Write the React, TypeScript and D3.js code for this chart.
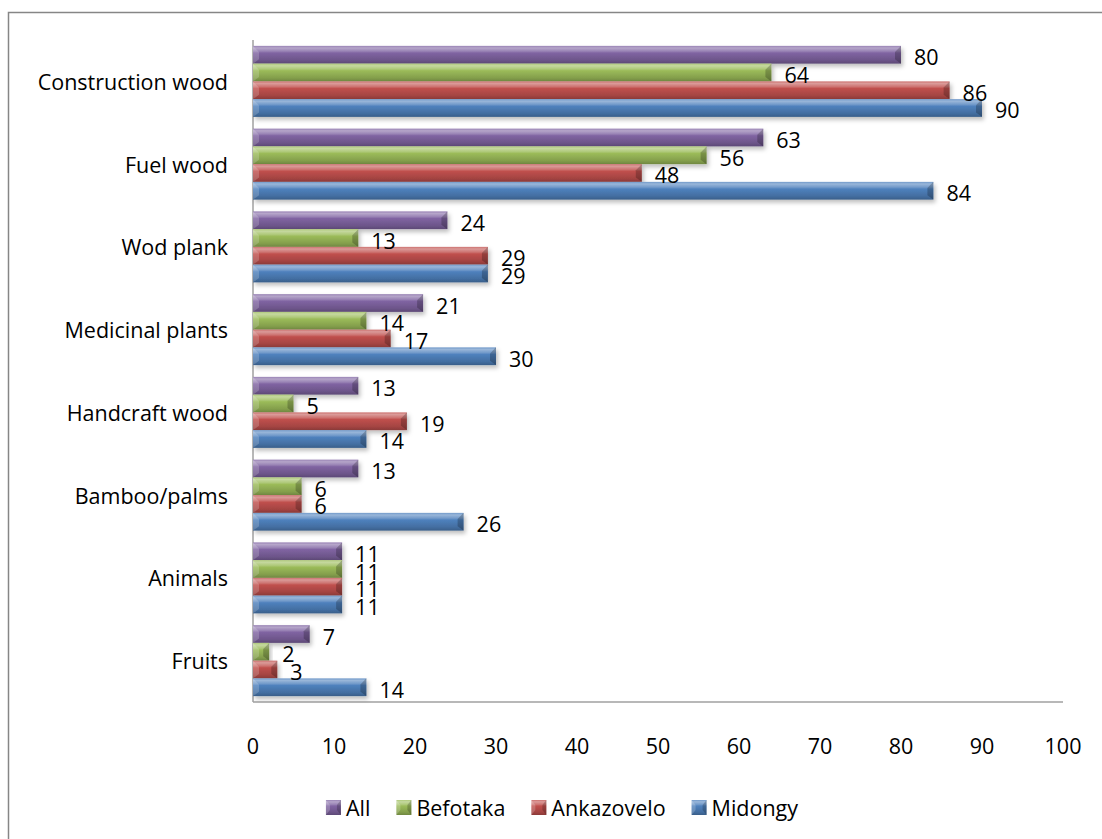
import React, { useEffect, useRef } from "react";
import * as d3 from "d3";

const categories = [
  "Construction wood",
  "Fuel wood",
  "Wod plank",
  "Medicinal plants",
  "Handcraft wood",
  "Bamboo/palms",
  "Animals",
  "Fruits",
];
const seriesNames = ["All", "Befotaka", "Ankazovelo", "Midongy"];
const allValues = [80, 63, 24, 21, 13, 13, 11, 7];
const befotakaValues = [64, 56, 13, 14, 5, 6, 11, 2];
const ankazoveloValues = [86, 48, 29, 17, 19, 6, 11, 3];
const midongyValues = [90, 84, 29, 30, 14, 26, 11, 14];
const xTicks = [0, 10, 20, 30, 40, 50, 60, 70, 80, 90, 100];

const seriesValues = [allValues, befotakaValues, ankazoveloValues, midongyValues];
const colors = ["#8064A2", "#9BBB59", "#C0504D", "#4F81BD"];

const W = 1102;
const H = 839;
const FONT = "'Open Sans', sans-serif";
const FS = 21.5;

export default function App() {
  const ref = useRef<SVGSVGElement | null>(null);

  useEffect(() => {
    const svg = d3.select(ref.current);
    svg.selectAll("*").remove();

    const left = 253;
    const right = 1063;
    const top = 40;
    const bottom = 702;

    const x = d3.scaleLinear().domain([0, 100]).range([left, right]);
    const y0 = d3
      .scaleBand<string>()
      .domain(categories)
      .range([top, bottom])
      .paddingInner(0.142)
      .paddingOuter(0.071);
    const y1 = d3
      .scaleBand<string>()
      .domain(seriesNames)
      .range([0, y0.bandwidth()]);

    const defs = svg.append("defs");
    colors.forEach((c, i) => {
      const base = d3.color(c)!;
      const light = d3.interpolateRgb(c, "#ffffff")(0.42);
      const light2 = d3.interpolateRgb(c, "#ffffff")(0.2);
      const dark = (base as any).darker(0.45).formatHex();
      const darker = (base as any).darker(0.9).formatHex();
      const g = defs
        .append("linearGradient")
        .attr("id", "grad" + i)
        .attr("x1", 0)
        .attr("y1", 0)
        .attr("x2", 0)
        .attr("y2", 1);
      g.append("stop").attr("offset", "0%").attr("stop-color", light2);
      g.append("stop").attr("offset", "12%").attr("stop-color", light);
      g.append("stop").attr("offset", "30%").attr("stop-color", light2);
      g.append("stop").attr("offset", "40%").attr("stop-color", c);
      g.append("stop").attr("offset", "80%").attr("stop-color", dark);
      g.append("stop").attr("offset", "100%").attr("stop-color", darker);
    });
    const f = defs
      .append("filter")
      .attr("id", "shadow")
      .attr("x", "-10%")
      .attr("y", "-30%")
      .attr("width", "130%")
      .attr("height", "200%");
    f.append("feDropShadow")
      .attr("dx", 2)
      .attr("dy", 3)
      .attr("stdDeviation", 2)
      .attr("flood-color", "#000")
      .attr("flood-opacity", 0.25);

    // border
    svg
      .append("rect")
      .attr("x", 8.5)
      .attr("y", 12.5)
      .attr("width", 1200)
      .attr("height", 1000)
      .attr("fill", "#fff")
      .attr("stroke", "#868686")
      .attr("stroke-width", 1.5);

    // axes lines
    svg
      .append("line")
      .attr("x1", left)
      .attr("x2", left)
      .attr("y1", top)
      .attr("y2", bottom)
      .attr("stroke", "#A0A0A0")
      .attr("stroke-width", 1.5);
    svg
      .append("line")
      .attr("x1", left)
      .attr("x2", right)
      .attr("y1", bottom)
      .attr("y2", bottom)
      .attr("stroke", "#A0A0A0")
      .attr("stroke-width", 1.5);

    // x tick labels
    svg
      .append("g")
      .selectAll("text")
      .data(xTicks)
      .join("text")
      .attr("x", (d) => x(d))
      .attr("y", 745)
      .attr("text-anchor", "middle")
      .attr("dominant-baseline", "central")
      .attr("font-family", FONT)
      .attr("font-size", FS)
      .attr("fill", "#000")
      .text((d) => String(d));

    // category labels
    svg
      .append("g")
      .selectAll("text")
      .data(categories)
      .join("text")
      .attr("x", 228)
      .attr("y", (d) => y0(d)! + y0.bandwidth() / 2)
      .attr("text-anchor", "end")
      .attr("dominant-baseline", "central")
      .attr("font-family", FONT)
      .attr("font-size", FS)
      .attr("fill", "#000")
      .text((d) => d);

    // bars
    const barsG = svg.append("g");
    const labelsG = svg.append("g");
    categories.forEach((cat, ci) => {
      seriesNames.forEach((s, si) => {
        const v = seriesValues[si][ci];
        const yy = y0(cat)! + y1(s)!;
        const h = y1.bandwidth();
        const x0 = x(0);
        const xe = x(v);
        const w = xe - x0;
        const g = barsG.append("g");
        g.append("rect")
          .attr("x", x0)
          .attr("y", yy)
          .attr("width", w)
          .attr("height", h)
          .attr("fill", `url(#grad${si})`)
          .attr("filter", "url(#shadow)");
        const bev = Math.min(6, w / 2);
        g.append("polygon")
          .attr(
            "points",
            `${x0},${yy} ${x0 + bev},${yy + h * 0.35} ${x0 + bev},${yy + h * 0.75} ${x0},${yy + h}`
          )
          .attr("fill", "#fff")
          .attr("opacity", 0.18);
        g.append("polygon")
          .attr(
            "points",
            `${xe},${yy} ${xe - bev},${yy + h * 0.35} ${xe - bev},${yy + h * 0.75} ${xe},${yy + h}`
          )
          .attr("fill", "#000")
          .attr("opacity", 0.22);
        labelsG
          .append("text")
          .attr("x", xe + 13)
          .attr("y", yy + h / 2 + 2)
          .attr("dominant-baseline", "central")
          .attr("font-family", FONT)
          .attr("font-size", FS)
          .attr("fill", "#000")
          .text(String(v));
      });
    });

    // legend
    const leg = svg.append("g");
    const items: { g: any; w: number }[] = [];
    seriesNames.forEach((s, si) => {
      const g = leg.append("g");
      g.append("rect")
        .attr("x", 0)
        .attr("y", -7)
        .attr("width", 15)
        .attr("height", 15)
        .attr("fill", `url(#grad${si})`);
      g.append("polygon")
        .attr("points", "0,-7 4,-2 4,3 0,8")
        .attr("fill", "#fff")
        .attr("opacity", 0.2);
      g.append("polygon")
        .attr("points", "15,-7 11,-2 11,3 15,8")
        .attr("fill", "#000")
        .attr("opacity", 0.2);
      const t = g
        .append("text")
        .attr("x", 20)
        .attr("y", 0)
        .attr("dominant-baseline", "central")
        .attr("font-family", FONT)
        .attr("font-size", FS)
        .attr("fill", "#000")
        .text(s);
      const tw = (t.node() as SVGTextElement).getComputedTextLength();
      items.push({ g, w: 20 + tw });
    });
    const gap = 26;
    const total = items.reduce((a, b) => a + b.w, 0) + gap * (items.length - 1);
    let cx = 562 - total / 2;
    items.forEach((it) => {
      it.g.attr("transform", `translate(${cx},807)`);
      cx += it.w + gap;
    });
  }, []);

  return (
    <svg
      ref={ref}
      width={W}
      height={H}
      style={{ display: "block", position: "absolute", left: 0, top: 0 }}
    />
  );
}
